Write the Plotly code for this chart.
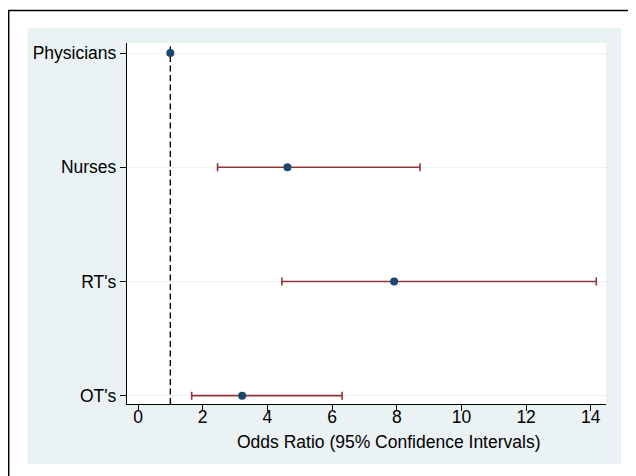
import plotly.graph_objects as go

groups = ["Physicians", "Nurses", "RT's", "OT's"]
odds_ratio = [1.0, 4.62, 7.92, 3.22]
ci_low = [1.0, 2.46, 4.45, 1.66]
ci_high = [1.0, 8.72, 14.17, 6.31]
x_ticks = [0, 2, 4, 6, 8, 10, 12, 14]
ref_line = 1.0
x_title = "Odds Ratio (95% Confidence Intervals)"

ypos = [4, 3, 2, 1]
err_plus = [h - o for h, o in zip(ci_high, odds_ratio)]
err_minus = [o - l for o, l in zip(odds_ratio, ci_low)]

FONT = "Liberation Sans, Arial, sans-serif"
NAVY = "#1a476f"
MAROON = "#90353b"
BG = "#eaf2f3"

fig = go.Figure()
fig.add_trace(go.Scatter(
    x=odds_ratio[1:], y=ypos[1:], mode="markers",
    marker=dict(size=8, color=NAVY),
    error_x=dict(type="data", symmetric=False, array=err_plus[1:], arrayminus=err_minus[1:],
                 color=MAROON, thickness=1.6, width=4),
    showlegend=False, hoverinfo="skip"))
fig.add_trace(go.Scatter(
    x=odds_ratio[:1], y=ypos[:1], mode="markers",
    marker=dict(size=8, color=NAVY), showlegend=False, hoverinfo="skip"))

OFF = 8  # page body margin
L, R, T, B = 127.3 - OFF, 606.0 - OFF, 43.3 - OFF, 404.0 - OFF
W, H = 628, 468
pw, ph = R - L, B - T

def px(xp):
    return (xp - OFF - L) / pw

def py(yp):
    return (B - (yp - OFF)) / ph

shapes = [
    dict(type="rect", xref="paper", yref="paper", x0=px(28), x1=px(621), y0=py(464), y1=py(28),
         fillcolor=BG, line=dict(width=0), layer="below"),
    dict(type="rect", xref="paper", yref="paper", x0=0, x1=1, y0=0, y1=1,
         fillcolor="white", line=dict(width=0), layer="below"),
    dict(type="path", xref="paper", yref="paper",
         path=f"M {px(9.0)},{py(490)} L {px(9.0)},{py(10.8)} L {px(650)},{py(10.8)}",
         line=dict(color="black", width=1.6), layer="below"),
    dict(type="line", xref="x", yref="paper", x0=ref_line, x1=ref_line, y0=0, y1=1,
         line=dict(color="black", width=1.4, dash="6px,3.5px"), layer="below"),
]

fig.update_layout(
    width=W, height=H,
    margin=dict(l=L, r=W - R, t=T, b=H - B, pad=0),
    paper_bgcolor="white", plot_bgcolor="white",
    font=dict(family=FONT, size=17.5, color="black"),
    shapes=shapes,
    annotations=[dict(text=x_title, xref="paper", yref="paper", x=px(388.4), y=py(442),
                      xanchor="center", yanchor="middle", showarrow=False,
                      font=dict(family=FONT, size=17.5, color="black"))],
    xaxis=dict(range=[-0.34, 14.47], tickvals=x_ticks, ticktext=[str(t) for t in x_ticks],
               showgrid=False, zeroline=False, showline=True, linecolor="black", linewidth=1.3,
               ticks="outside", ticklen=6, tickcolor="black", tickwidth=1,
               ticklabelstandoff=-9,
               tickfont=dict(family=FONT, size=17.5)),
    yaxis=dict(range=[0.927, 4.088], tickvals=ypos, ticktext=groups,
               showgrid=True, gridcolor=BG, gridwidth=1.2, zeroline=False,
               showline=True, linecolor="black", linewidth=1.3,
               ticks="outside", ticklen=6, tickcolor="black", tickwidth=1,
               tickfont=dict(family=FONT, size=17.5)),
)

fig.write_html("out.html")
